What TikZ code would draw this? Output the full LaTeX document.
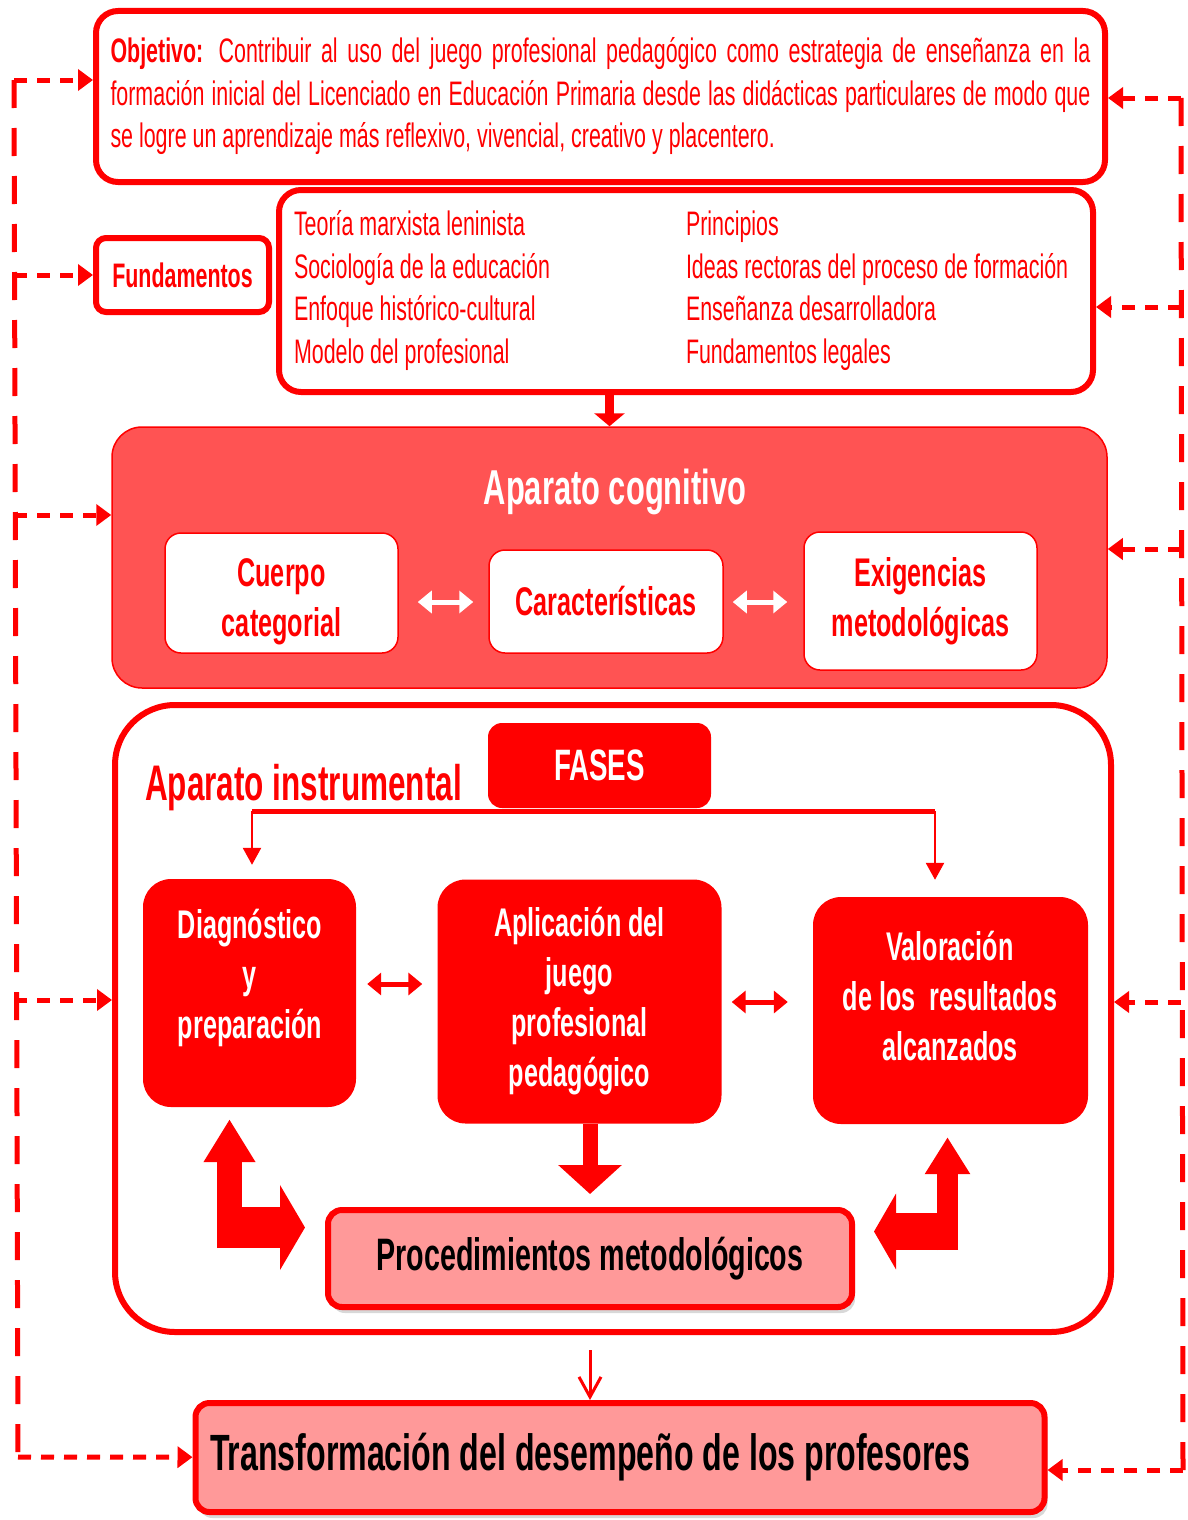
\documentclass[tikz,border=0pt]{standalone}
\usepackage{fontspec}
\setmainfont{Liberation Sans}[FakeStretch=0.63]
\usetikzlibrary{arrows.meta,shadows}
\definecolor{rojo}{HTML}{FF0000}
\definecolor{rojoclaro}{HTML}{FF5353}
\definecolor{rosa}{HTML}{FF9999}
\begin{document}
\begin{tikzpicture}[x=1pt, y=-1pt,
    caja/.style={draw=rojo, line width=6pt, fill=white, rounded corners=22pt, inner sep=0pt},
    cajita/.style={draw=rojo, line width=1.5pt, fill=white, rounded corners=16pt, text=rojo, font=\bfseries\fontsize{40}{50}\selectfont, align=center},
    fase/.style={fill=rojo, rounded corners=28pt},
    blanco/.style={text=white, font=\bfseries\fontsize{40}{50}\selectfont, align=center},
    resultado/.style={draw=rojo, line width=6pt, fill=rosa, rounded corners=14pt, text=black, drop shadow={shadow xshift=3pt, shadow yshift=-6pt, fill=black!30}},
    bus/.style={draw=rojo, line width=5pt, dash pattern=on 28pt off 20pt},
    retro/.style={draw=rojo, line width=5pt, dash pattern=on 13pt off 10pt, -{Triangle[length=15pt,width=21pt]}},
    doble/.style={line width=5pt, {Triangle[length=14pt,width=22pt]}-{Triangle[length=14pt,width=22pt]}},
    flecha/.style={draw=rojo, line width=2.5pt, -{Triangle[length=17pt,width=18pt]}}]

\useasboundingbox (0,0) rectangle (1188,1520);

\node[caja, minimum width=1009pt, minimum height=171pt, text width=980pt, align=left, text=rojo, font=\fontsize{34}{42.5}\selectfont] (obj) at (600.5,96.5)
  {\spaceskip=0pt \xspaceskip=0pt
   \makebox[980pt][s]{\textbf{Objetivo:} Contribuir al uso del juego profesional pedagógico como estrategia de enseñanza en la}\\
   \makebox[980pt][s]{formación inicial del Licenciado en Educación Primaria desde las didácticas particulares de modo que}\\
   se logre un aprendizaje más reflexivo, vivencial, creativo y placentero.};
\node[caja, minimum width=173pt, minimum height=74pt, rounded corners=10pt, text=rojo, font=\bfseries\fontsize{34}{40}\selectfont] (fund) at (182.5,275) {Fundamentos};
\node[caja, minimum width=814pt, minimum height=202pt, text width=784pt, align=left, text=rojo, font=\fontsize{34}{42.5}\selectfont] (list) at (686,291)
  {\spaceskip=0pt \xspaceskip=0pt
   \begin{tabular}{@{}p{392pt}@{}l@{}}
   Teoría marxista leninista & Principios\\
   Sociología de la educación & Ideas rectoras del proceso de formación\\
   Enfoque histórico-cultural & Enseñanza desarrolladora\\
   Modelo del profesional & Fundamentos legales
   \end{tabular}};

\node[draw=rojo, line width=1.5pt, fill=rojoclaro, rounded corners=30pt, minimum width=995pt, minimum height=261pt] (cog) at (609.5,557.5) {};
\node[text=white, font=\bfseries\fontsize{49}{55}\selectfont, anchor=base, inner sep=0pt] (cogtit) at (615,504) {Aparato cognitivo};
\node[cajita, minimum width=233pt, minimum height=120pt] (cuerpo) at (281.5,593) {};
\node[cajita, draw=none, fill=none] (cuerpotxt) at (281.5,602) {Cuerpo\\categorial};
\node[cajita, minimum width=234pt, minimum height=103pt] (carac) at (606,601.5) {Características};
\node[cajita, minimum width=233pt, minimum height=138pt] (exig) at (920.5,601) {Exigencias\\metodológicas};

\node[caja, minimum width=996pt, minimum height=627pt, rounded corners=60pt] (inst) at (613,1018.5) {};
\node[text=rojo, font=\bfseries\fontsize{50}{58}\selectfont, anchor=base west, inner sep=0pt] (insttit) at (145,800) {Aparato instrumental};
\node[fase, blanco, rounded corners=14pt, minimum width=223pt, minimum height=85pt, font=\bfseries\fontsize{44}{50}\selectfont] (fases) at (599.5,765.5) {FASES};
\node[fase, minimum width=213pt, minimum height=228pt] (diag) at (249.5,993) {};
\node[blanco] (diagtxt) at (250,978) {Diagnóstico\\y\\preparación};
\node[fase, blanco, minimum width=284pt, minimum height=244pt] (apl) at (579.5,1001.5) {Aplicación del\\juego\\profesional\\pedagógico};
\node[fase, minimum width=275pt, minimum height=227pt] (val) at (950.5,1010.5) {};
\node[blanco] (valtxt) at (950,996) {Valoración\\de los\ \ resultados\\alcanzados};
\node[resultado, minimum width=524pt, minimum height=97pt, font=\bfseries\fontsize{45.5}{52}\selectfont] (proc) at (590,1258.5) {Procedimientos metodológicos};
\node[resultado, minimum width=849pt, minimum height=109pt, text width=820pt, align=left, font=\bfseries\fontsize{51}{58}\selectfont] (trans) at (620,1457.5)
  {\spaceskip=0pt \xspaceskip=0pt Transformación del desempeño de los profesores};

\coordinate (ycog) at (0,602);
\coordinate (yfa) at (0,984);
\coordinate (yfb) at (0,1002);
\coordinate (fl) at (252,811);
\coordinate (fr) at (935,811);
\coordinate (cl) at (229.5,1227.5);
\coordinate (cr) at (947.5,1231.5);

\draw[rojo, line width=9pt, -{Triangle[length=13pt,width=30pt]}] (cog.north |- list.south) -- (cog.north);
\draw[doble, white, shorten <=19pt, shorten >=15pt] (cuerpo.east |- ycog) -- (carac.west |- ycog);
\draw[doble, white, shorten <=9pt, shorten >=16pt] (carac.east |- ycog) -- (exig.west |- ycog);

\draw[rojo, line width=5pt] (fl) -- (fr);
\draw[flecha, shorten >=14pt] (fl) -- (fl |- diag.north);
\draw[flecha, shorten >=17pt] (fr) -- (fr |- val.north);
\draw[doble, rojo, shorten <=11pt, shorten >=15pt] (diag.east |- yfa) -- (apl.west |- yfa);
\draw[doble, rojo, shorten <=10pt, shorten >=25pt] (apl.east |- yfb) -- (val.west |- yfb);

\draw[rojo, line width=15pt, -{Triangle[length=29pt,width=62pt]}, shorten >=13pt] (apl.south -| proc.north) -- (proc.north);
\draw[rojo, line width=25pt, -{Triangle[length=43pt,width=49pt]}, shorten >=12pt] ([yshift=-20.5pt]cl) -- (cl |- diag.south);
\draw[rojo, line width=41pt, -{Triangle[length=25pt,width=84pt]}, shorten >=20pt] ([xshift=-12.5pt]cl) -- (cl -| proc.west);
\draw[rojo, line width=21pt, -{Triangle[length=37pt,width=43pt]}, shorten >=13pt] ([yshift=-18.5pt]cr) -- (cr |- val.south);
\draw[rojo, line width=37pt, -{Triangle[length=22pt,width=75pt]}, shorten >=19pt] ([xshift=10.5pt]cr) -- (cr -| proc.east);

\draw[rojo, line width=3pt, -{Straight Barb[length=20pt,width=22pt]}, shorten <=15pt] (inst.south -| proc.south) -- (proc.south |- trans.north);

\coordinate (lt) at (14,80);
\coordinate (lb) at (18,1457);
\coordinate (rt) at (1181,98);
\coordinate (rb) at (1183,1470);
\coordinate (ylcog) at (0,515);
\coordinate (ylins) at (0,1000);
\coordinate (yrfund) at (0,307);
\coordinate (yrcog) at (0,549);
\coordinate (yrins) at (0,1002);

\draw[bus] (lt) -- (lb);
\draw[bus] (rt) -- (rb);
\draw[retro] (lt) -- (obj.west |- lt);
\draw[retro] (lt |- fund) -- (fund);
\draw[retro] (lt |- ylcog) -- (cog.west |- ylcog);
\draw[retro] (lt |- ylins) -- (inst.west |- ylins);
\draw[retro] (lb) -- (trans);
\draw[retro] (rt) -- (obj.east |- rt);
\draw[retro] (rt |- yrfund) -- (list.east |- yrfund);
\draw[retro] (rt |- yrcog) -- (cog.east |- yrcog);
\draw[retro] (rt |- yrins) -- (inst.east |- yrins);
\draw[retro] (rb) -- (trans.east |- rb);
\end{tikzpicture}
\end{document}
